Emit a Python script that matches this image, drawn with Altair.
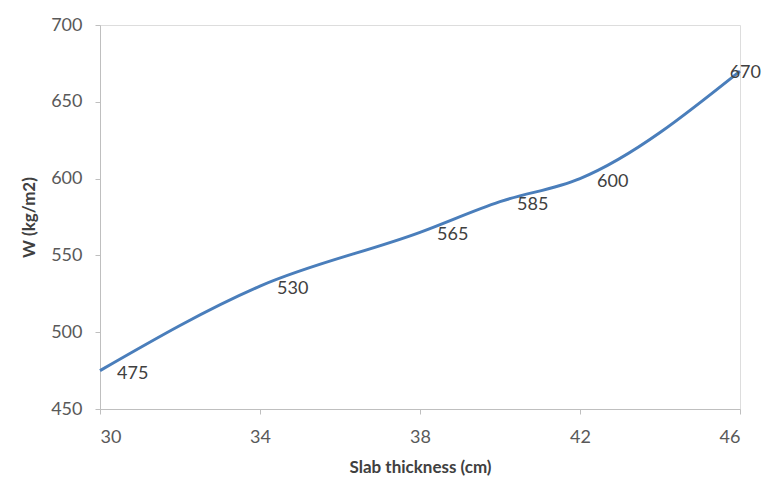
import altair as alt
import pandas as pd

thickness = [30, 34, 38, 40, 42, 46]
weight = [475, 530, 565, 585, 600, 670]
labels = ["475", "530", "565", "585", "600", "670"]

df = pd.DataFrame({"x": thickness, "y": weight, "lab": labels})

FONT = "Lato"
LINE = "#4A7EBB"

x_enc = alt.X("x:Q", scale=alt.Scale(domain=[30, 46], nice=False, zero=False),
              axis=alt.Axis(values=[30, 34, 38, 42, 46], title="Slab thickness (cm)",
                            grid=False, domainColor="#BFBFBF", tickColor="#BFBFBF",
                            tickSize=5, labelPadding=14, labelFontSize=18,
                            labelColor="#595959", labelFont=FONT,
                            titleFont=FONT, titleFontSize=17, titleFontWeight="bold",
                            titleColor="#404040", titlePadding=13))
y_enc = alt.Y("y:Q", scale=alt.Scale(domain=[450, 700], nice=False, zero=False),
              axis=alt.Axis(values=[450, 500, 550, 600, 650, 700], title="W (kg/m2)",
                            grid=False, domainColor="#BFBFBF", tickColor="#BFBFBF",
                            tickSize=5, labelPadding=13, labelFontSize=18,
                            labelColor="#595959", labelFont=FONT,
                            titleFont=FONT, titleFontSize=17, titleFontWeight="bold",
                            titleColor="#404040", titlePadding=12))

base = alt.Chart(df)

line = base.mark_line(color=LINE, strokeWidth=3, interpolate="monotone").encode(x=x_enc, y=y_enc)

text = base.transform_filter("datum.x < 46").mark_text(
    align="left", baseline="middle", dx=17, dy=3, font=FONT, fontSize=18, color="#404040"
).encode(x="x:Q", y="y:Q", text="lab:N")

text_last = base.transform_filter("datum.x == 46").mark_text(
    align="right", baseline="middle", dx=21, dy=2, font=FONT, fontSize=18, color="#404040"
).encode(x="x:Q", y="y:Q", text="lab:N")

chart = (line + text + text_last).properties(
    width=640, height=384,
    autosize=alt.AutoSizeParams(type="none"),
    padding={"left": 92, "top": 17, "right": 22, "bottom": 68},
).configure_view(stroke=None).configure(background="white")

chart.save("out.html", embed_options={"renderer": "svg", "actions": False})
